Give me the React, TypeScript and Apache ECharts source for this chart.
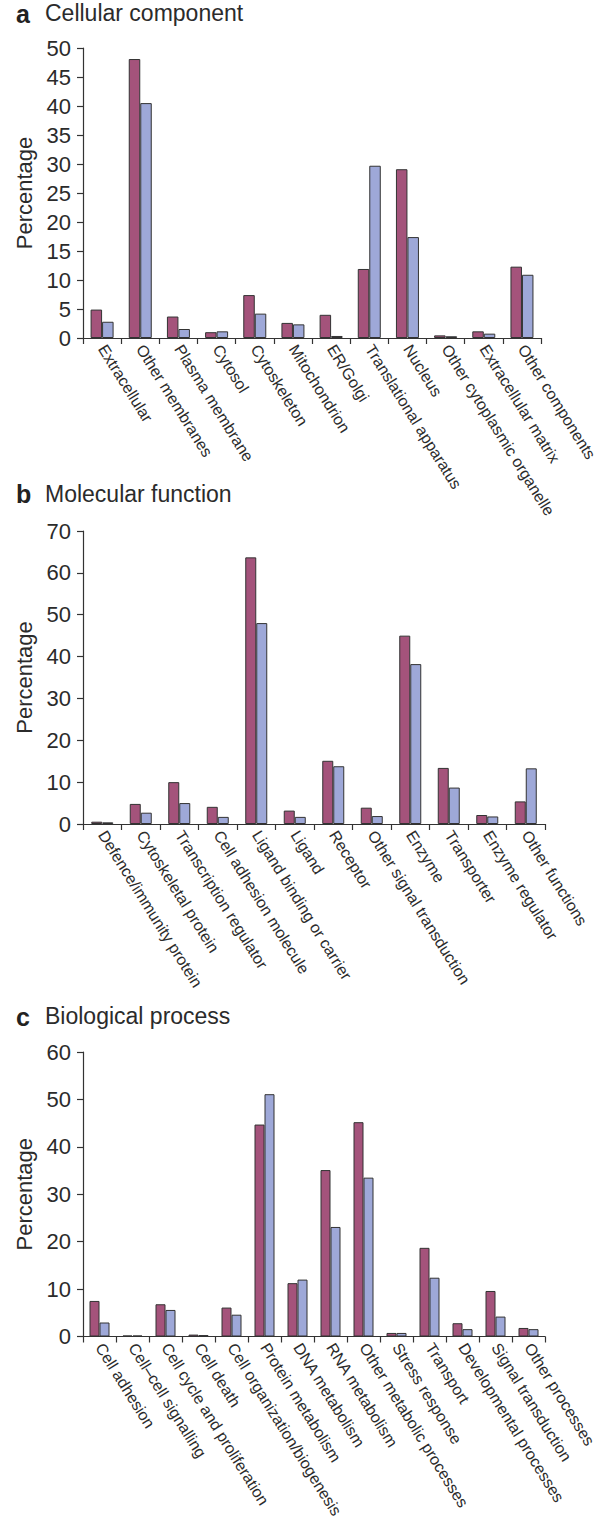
import React, { useEffect, useRef } from "react";
import * as echarts from "echarts";

const aCategories = ["Extracellular", "Other membranes", "Plasma membrane", "Cytosol", "Cytoskeleton", "Mitochondrion", "ER/Golgi", "Translational apparatus", "Nucleus", "Other cytoplasmic organelle", "Extracellular matrix", "Other components"];
const aRed = [4.9, 48.1, 3.7, 1.0, 7.4, 2.6, 4.0, 11.9, 29.1, 0.45, 1.15, 12.3];
const aBlue = [2.8, 40.5, 1.55, 1.15, 4.2, 2.35, 0.35, 29.7, 17.4, 0.3, 0.75, 10.9];

const bCategories = ["Defence/immunity protein", "Cytoskeletal protein", "Transcription regulator", "Cell adhesion molecule", "Ligand binding or carrier", "Ligand", "Receptor", "Other signal transduction", "Enzyme", "Transporter", "Enzyme regulator", "Other functions"];
const bRed = [0.55, 4.8, 10.0, 4.1, 63.7, 3.2, 15.1, 3.9, 45.0, 13.4, 2.15, 5.4];
const bBlue = [0.4, 2.7, 5.0, 1.7, 48.0, 1.7, 13.8, 1.9, 38.2, 8.7, 1.8, 13.3];

const cCategories = ["Cell adhesion", "Cell\u2013cell signalling", "Cell cycle and proliferation", "Cell death", "Cell organization/biogenesis", "Protein metabolism", "DNA metabolism", "RNA metabolism", "Other metabolic processes", "Stress response", "Transport", "Developmental processes", "Signal transduction", "Other processes"];
const cRed = [7.5, 0.2, 6.8, 0.4, 6.1, 44.7, 11.25, 35.1, 45.2, 0.75, 18.7, 2.8, 9.6, 1.8];
const cBlue = [2.95, 0.2, 5.6, 0.3, 4.6, 51.1, 12.0, 23.1, 33.5, 0.75, 12.4, 1.55, 4.2, 1.55];

const panelLetters = ["a", "b", "c"];
const panelTitles = ["Cellular component", "Molecular function", "Biological process"];
const yMax = [50, 70, 60];
const yInterval = [5, 10, 10];

const FONT = '"Liberation Sans", Arial, Helvetica, sans-serif';
const TEXT = "#2b2b2b";
const RED = "#A4537B";
const BLUE = "#9EA8D8";

export default function App() {
  const ref = useRef<HTMLDivElement>(null);
  useEffect(() => {
    document.body.style.margin = "0";
    if (!ref.current) return;
    const chart = echarts.init(ref.current, undefined, { renderer: "svg" });

    const cats = [aCategories, bCategories, cCategories];
    const reds = [aRed, bRed, cRed];
    const blues = [aBlue, bBlue, cBlue];
    const grids = [
      { left: 83, top: 48, width: 460, height: 290 },
      { left: 83, top: 531, width: 462, height: 293 },
      { left: 83, top: 1052, width: 462, height: 284.5 },
    ];
    const barW = [11.5, 11, 10];
    const titleY = [15, 495.5, 1018];

    const xAxis: any[] = [];
    const yAxis: any[] = [];
    const series: any[] = [];
    const graphic: any[] = [];

    for (let i = 0; i < 3; i++) {
      xAxis.push({
        type: "category",
        gridIndex: i,
        data: cats[i],
        axisLine: { lineStyle: { color: "#333", width: 1.2 } },
        axisTick: { show: true, length: 6, inside: false, lineStyle: { color: "#333", width: 1.2 } },
        axisLabel: {
          interval: 0,
          rotate: -58,
          fontSize: 16,
          fontFamily: FONT,
          color: TEXT,
          margin: 8,
        },
        splitLine: { show: false },
      });
      yAxis.push({
        type: "value",
        gridIndex: i,
        min: 0,
        max: yMax[i],
        interval: yInterval[i],
        name: "Percentage",
        nameLocation: "middle",
        nameGap: 47,
        nameTextStyle: { fontSize: 22, fontFamily: FONT, color: TEXT },
        axisLine: { show: true, lineStyle: { color: "#333", width: 1.2 } },
        axisTick: { show: true, length: 6, inside: false, lineStyle: { color: "#333", width: 1.2 } },
        axisLabel: { fontSize: 22, fontFamily: FONT, color: TEXT, margin: 12 },
        splitLine: { show: false },
      });
      series.push({
        type: "bar",
        name: "Set 1",
        xAxisIndex: i,
        yAxisIndex: i,
        data: reds[i],
        barWidth: barW[i],
        barGap: "0%",
        itemStyle: { color: RED, borderColor: "#333", borderWidth: 1 },
      });
      series.push({
        type: "bar",
        name: "Set 2",
        xAxisIndex: i,
        yAxisIndex: i,
        data: blues[i],
        barWidth: barW[i],
        barGap: "0%",
        itemStyle: { color: BLUE, borderColor: "#333", borderWidth: 1 },
      });
      graphic.push({
        type: "text",
        left: 16,
        top: titleY[i] - 14,
        style: { text: panelLetters[i], fontSize: 25, fontWeight: "bold", fontFamily: FONT, fill: "#222" },
      });
      graphic.push({
        type: "text",
        left: 45,
        top: titleY[i] - 13.5,
        style: { text: panelTitles[i], fontSize: 23, fontFamily: FONT, fill: TEXT },
      });
    }

    chart.setOption({
      animation: false,
      backgroundColor: "#ffffff",
      grid: grids,
      xAxis,
      yAxis,
      series,
      graphic,
    });
    return () => chart.dispose();
  }, []);
  return <div ref={ref} style={{ width: 600, height: 1534 }} />;
}
